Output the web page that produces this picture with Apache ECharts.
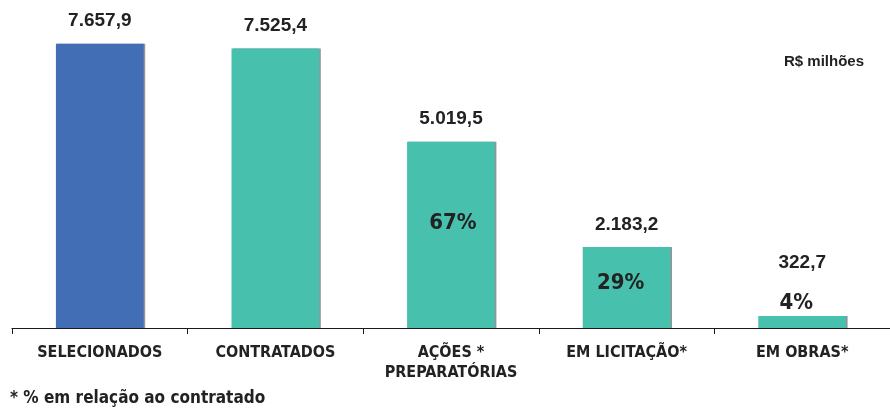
<!DOCTYPE html>
<html>
<head>
<meta charset="utf-8">
<script src="https://cdn.jsdelivr.net/npm/echarts@6/dist/echarts.min.js"></script>
<style>
  html, body { margin: 0; padding: 0; background: #fff; }
  #chart { width: 890px; height: 411px; }
</style>
</head>
<body>
<div id="chart"></div>
<script>
// Investimentos por etapa (R$ milhões)
const categories = ['SELECIONADOS', 'CONTRATADOS', 'AÇÕES *\nPREPARATÓRIAS', 'EM LICITAÇÃO*', 'EM OBRAS*'];
const values = [7657.9, 7525.4, 5019.5, 2183.2, 322.7];
// share of the contracted amount, shown on the later stages
const shareOfContracted = [null, null, 67, 29, 4];
const unitLabel = 'R$ milhões';
const footnote = '* % em relação ao contratado';

const narrow = '"DejaVu Sans Condensed", "Liberation Sans Narrow", sans-serif';
const regular = '"Liberation Sans", Arial, sans-serif';
const BLUE = '#426EB5';
const TEAL = '#47C0AD';
const INK = '#222222';

const fmt = v => {
  const [i, d] = v.toFixed(1).split('.');
  return i.replace(/\B(?=(\d{3})+(?!\d))/g, '.') + ',' + d;
};

// value labels sit above each bar; the last one leaves room for its percentage
const valueDistance = [13, 13, 13, 13, 44];
// where each percentage label sits relative to its bar
const pctPlacement = [null, null,
  { position: 'inside', offset: [2, -12] },
  { position: 'inside', offset: [-6, -4] },
  { position: 'top', distance: 2, offset: [-6, 0] }];

const mainData = values.map((v, i) => ({
  value: v,
  itemStyle: { color: i === 0 ? BLUE : TEAL },
  label: { distance: valueDistance[i] }
}));

const pctData = values.map((v, i) => {
  const p = shareOfContracted[i];
  if (p == null) return { value: v, label: { show: false } };
  return {
    value: v,
    label: Object.assign({ show: true, formatter: p + '%' }, pctPlacement[i])
  };
});

const chart = echarts.init(document.getElementById('chart'), null, { renderer: 'canvas' });
chart.setOption({
  animation: false,
  backgroundColor: '#ffffff',
  grid: { left: 12, top: 31, width: 880, height: 297 },
  xAxis: {
    type: 'category',
    data: categories,
    axisLine: { lineStyle: { color: '#1a1a1a', width: 1.2 } },
    axisTick: { show: true, length: 6, lineStyle: { color: '#1a1a1a' } },
    axisLabel: {
      color: INK, fontFamily: narrow, fontWeight: 'bold', fontSize: 16,
      lineHeight: 20, margin: 15, interval: 0
    }
  },
  yAxis: { type: 'value', min: 0, max: 8000, show: false, splitLine: { show: false } },
  series: [
    {
      type: 'bar',
      data: mainData,
      barWidth: '50%',
      itemStyle: { shadowColor: 'rgba(60,60,60,0.55)', shadowOffsetX: 1.5, shadowOffsetY: 0, shadowBlur: 0 },
      label: {
        show: true, position: 'top',
        formatter: p => fmt(p.value),
        color: INK, fontFamily: regular, fontWeight: 'bold', fontSize: 19
      },
      z: 2
    },
    {
      type: 'bar',
      data: pctData,
      barWidth: '50%',
      barGap: '-100%',
      itemStyle: { color: 'rgba(0,0,0,0)' },
      label: { color: INK, fontFamily: narrow, fontWeight: 'bold', fontSize: 22 },
      silent: true,
      z: 3
    }
  ],
  graphic: [
    {
      type: 'text', right: 26, top: 54,
      style: { text: unitLabel, fill: INK, font: 'bold 15px ' + regular }
    },
    {
      type: 'text', left: 10, top: 390,
      style: { text: footnote, fill: INK, font: 'bold 17px ' + narrow }
    }
  ]
});
</script>
</body>
</html>
